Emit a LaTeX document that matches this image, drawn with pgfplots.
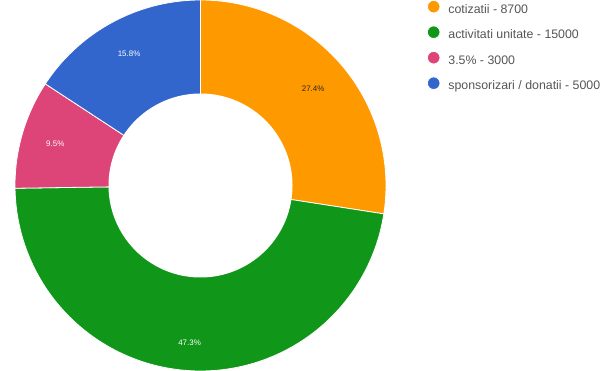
\documentclass[border=0pt]{standalone}
\usepackage{pgfplots}
\pgfplotsset{compat=1.18}
\usepackage{fontspec}
\setmainfont{Liberation Sans}
\definecolor{cOrange}{HTML}{FF9900}
\definecolor{cGreen}{HTML}{109618}
\definecolor{cPink}{HTML}{DD4477}
\definecolor{cBlue}{HTML}{3366CC}
\definecolor{legtext}{HTML}{555555}
\begin{document}
\begin{tikzpicture}
\def\vA{8700}
\def\vB{15000}
\def\vC{3000}
\def\vD{5000}
\pgfmathsetmacro{\tot}{\vA/1000+\vB/1000+\vC/1000+\vD/1000}
\pgfmathsetmacro{\aA}{90}
\pgfmathsetmacro{\aB}{\aA-360*(\vA/1000/\tot)}
\pgfmathsetmacro{\aC}{\aB-360*(\vB/1000/\tot)}
\pgfmathsetmacro{\aD}{\aC-360*(\vC/1000/\tot)}
\pgfmathsetmacro{\aE}{\aD-360*(\vD/1000/\tot)}
\pgfmathsetmacro{\mA}{(\aA+\aB)/2}
\pgfmathsetmacro{\mB}{(\aB+\aC)/2}
\pgfmathsetmacro{\mC}{(\aC+\aD)/2}
\pgfmathsetmacro{\mD}{(\aD+\aE)/2}
\useasboundingbox (0,0) rectangle (600bp,371bp);
\begin{axis}[
  at={(0,0)}, anchor=south west,
  scale only axis, width=600bp, height=371bp,
  xmin=-1.08086, xmax=2.15364, ymin=-1, ymax=1,
  axis lines=none, clip=false,
  legend image code/.code={\fill (0bp,3.5bp) circle (6.3bp);},
  legend cell align=left,
  legend style={at={(axis cs:1.2210,1.0)}, anchor=north west,
    draw=none, fill=none, inner sep=0pt, outer sep=0pt,
    font=\fontsize{12.4}{14}\selectfont, text=legtext,
    nodes={inner sep=0pt, text height=9bp, text depth=3bp},
    row sep=9.3bp,
    /tikz/every odd column/.append style={column sep=8bp}},
]
\addplot[fill=cOrange, draw=white, line width=0.8bp, domain=\aB:\aA, samples=80, variable=\t]
  ({cos(\t)},{sin(\t)}) -- (axis cs:0,0) -- cycle;
\addlegendentry{cotizatii - 8700}
\addplot[fill=cGreen, draw=white, line width=0.8bp, domain=\aC:\aB, samples=120, variable=\t]
  ({cos(\t)},{sin(\t)}) -- (axis cs:0,0) -- cycle;
\addlegendentry{activitati unitate - 15000}
\addplot[fill=cPink, draw=white, line width=0.8bp, domain=\aD:\aC, samples=40, variable=\t]
  ({cos(\t)},{sin(\t)}) -- (axis cs:0,0) -- cycle;
\addlegendentry{3.5\% - 3000}
\addplot[fill=cBlue, draw=white, line width=0.8bp, domain=\aE:\aD, samples=50, variable=\t]
  ({cos(\t)},{sin(\t)}) -- (axis cs:0,0) -- cycle;
\addlegendentry{sponsorizari / donatii - 5000}
\addplot[forget plot, fill=white, draw=none, domain=0:360, samples=200, variable=\t]
  ({0.496*cos(\t)},{0.496*sin(\t)}) -- cycle;
\node[font=\fontsize{8}{9}\selectfont, text=black!85] at (axis cs:{0.80*cos(\mA)},{0.80*sin(\mA)}) {27.4\%};
\node[font=\fontsize{8}{9}\selectfont, text=white] at (axis cs:{0.85*cos(\mB)},{0.85*sin(\mB)}) {47.3\%};
\node[font=\fontsize{8}{9}\selectfont, text=white] at (axis cs:{0.815*cos(\mC)},{0.815*sin(\mC)}) {9.5\%};
\node[font=\fontsize{8}{9}\selectfont, text=white] at (axis cs:{0.81*cos(\mD)},{0.81*sin(\mD)}) {15.8\%};
\end{axis}
\end{tikzpicture}
\end{document}
